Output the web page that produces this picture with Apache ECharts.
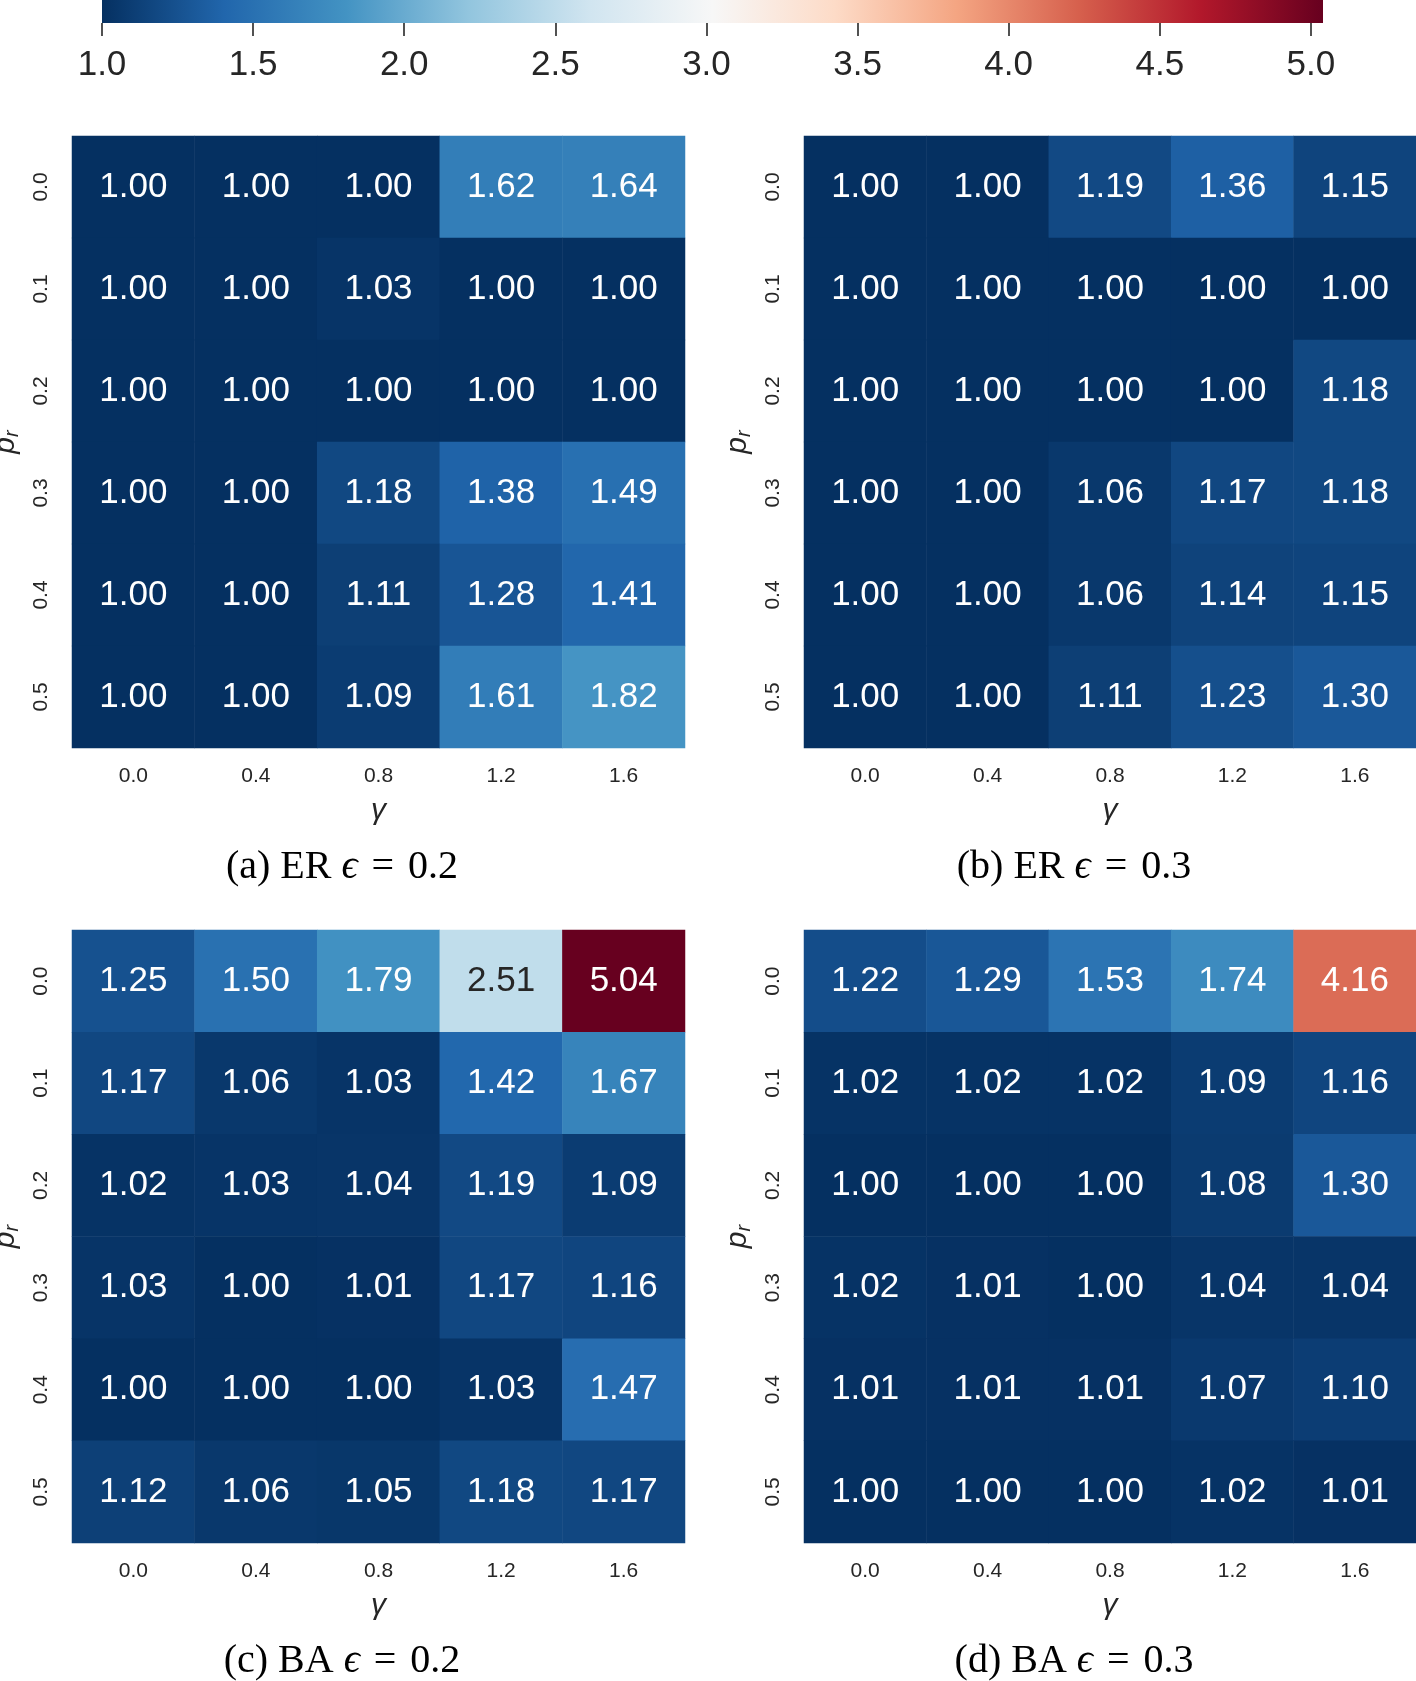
<!DOCTYPE html>
<html>
<head>
<meta charset="utf-8">
<script src="https://cdn.jsdelivr.net/npm/echarts@6/dist/echarts.min.js"></script>
<style>
html,body{margin:0;padding:0;background:#fff;}
#chart{width:1416px;height:1681px;}
</style>
</head>
<body>
<div id="chart"></div>
<script>
// ---- data ----
const gammaLabels = ['0.0', '0.4', '0.8', '1.2', '1.6'];
const prLabels = ['0.0', '0.1', '0.2', '0.3', '0.4', '0.5'];
const colorbarTicks = [1.0, 1.5, 2.0, 2.5, 3.0, 3.5, 4.0, 4.5, 5.0];
const colorMin = 1.00;
const colorMax = 5.04;

// rows = p_r (0.0 .. 0.5), columns = gamma (0.0 .. 1.6)
const erEps02 = [
  [1.00, 1.00, 1.00, 1.62, 1.64],
  [1.00, 1.00, 1.03, 1.00, 1.00],
  [1.00, 1.00, 1.00, 1.00, 1.00],
  [1.00, 1.00, 1.18, 1.38, 1.49],
  [1.00, 1.00, 1.11, 1.28, 1.41],
  [1.00, 1.00, 1.09, 1.61, 1.82]
];
const erEps03 = [
  [1.00, 1.00, 1.19, 1.36, 1.15],
  [1.00, 1.00, 1.00, 1.00, 1.00],
  [1.00, 1.00, 1.00, 1.00, 1.18],
  [1.00, 1.00, 1.06, 1.17, 1.18],
  [1.00, 1.00, 1.06, 1.14, 1.15],
  [1.00, 1.00, 1.11, 1.23, 1.30]
];
const baEps02 = [
  [1.25, 1.50, 1.79, 2.51, 5.04],
  [1.17, 1.06, 1.03, 1.42, 1.67],
  [1.02, 1.03, 1.04, 1.19, 1.09],
  [1.03, 1.00, 1.01, 1.17, 1.16],
  [1.00, 1.00, 1.00, 1.03, 1.47],
  [1.12, 1.06, 1.05, 1.18, 1.17]
];
const baEps03 = [
  [1.22, 1.29, 1.53, 1.74, 4.16],
  [1.02, 1.02, 1.02, 1.09, 1.16],
  [1.00, 1.00, 1.00, 1.08, 1.30],
  [1.02, 1.01, 1.00, 1.04, 1.04],
  [1.01, 1.01, 1.01, 1.07, 1.10],
  [1.00, 1.00, 1.00, 1.02, 1.01]
];
const panelCaptions = [
  {tag: '(a)', net: 'ER', eps: '0.2'},
  {tag: '(b)', net: 'ER', eps: '0.3'},
  {tag: '(c)', net: 'BA', eps: '0.2'},
  {tag: '(d)', net: 'BA', eps: '0.3'}
];
const panelData = [erEps02, erEps03, baEps02, baEps03];

// ---- style ----
const cmap = ['#053061', '#2166ac', '#4393c3', '#92c5de', '#d1e5f0', '#f7f7f7',
              '#fddbc7', '#f4a582', '#d6604d', '#b2182b', '#67001f'];
const SANS = '"Liberation Sans", Arial, sans-serif';
const SERIF = '"Liberation Serif", "DejaVu Serif", serif';
const TXT = '#262626';

const grids = [
  {left: 72, top: 136, width: 613, height: 612},
  {left: 804, top: 136, width: 612, height: 612},
  {left: 72, top: 930, width: 613, height: 613},
  {left: 804, top: 930, width: 612, height: 613}
];
const captionPos = [[342, 867], [1074, 867], [342, 1661], [1074, 1661]];

function toSeriesData(m) {
  const out = [];
  m.forEach((row, yi) => row.forEach((v, xi) => out.push([xi, yi, v])));
  return out;
}

const option = {
  backgroundColor: '#fff',
  animation: false,
  grid: [
    {left: 102, top: 0, width: 1221, height: 23, show: true, borderWidth: 0,
     containLabel: false, outerBoundsMode: 'none',
     backgroundColor: {type: 'linear', x: 0, y: 0, x2: 1, y2: 0,
       colorStops: cmap.map((c, i) => ({offset: i / (cmap.length - 1), color: c}))}}
  ].concat(grids.map(g => Object.assign({}, g, {containLabel: false, outerBoundsMode: 'none'}))),
  xAxis: [
    {gridIndex: 0, type: 'value', min: colorMin, max: colorMax, position: 'bottom',
     axisLine: {show: false}, splitLine: {show: false},
     axisTick: {show: true, length: 13, customValues: colorbarTicks, lineStyle: {color: TXT, width: 1.6}},
     axisLabel: {fontFamily: SANS, fontSize: 35, color: TXT, margin: 25,
       customValues: colorbarTicks, formatter: v => Number(v).toFixed(1)}}
  ].concat(grids.map((g, i) => ({
    gridIndex: i + 1, type: 'category', data: gammaLabels, position: 'bottom',
    axisLine: {show: false}, axisTick: {show: false}, splitLine: {show: false},
    axisLabel: {fontFamily: SANS, fontSize: 21, color: TXT, margin: 18},
    name: 'γ', nameLocation: 'middle', nameGap: 48,
    nameTextStyle: {fontFamily: SANS, fontSize: 30, fontStyle: 'italic', color: TXT}
  }))),
  yAxis: [
    {gridIndex: 0, type: 'value', show: false}
  ].concat(grids.map((g, i) => ({
    gridIndex: i + 1, type: 'category', data: prLabels, inverse: true,
    axisLine: {show: false}, axisTick: {show: false}, splitLine: {show: false},
    axisLabel: {fontFamily: SANS, fontSize: 21, color: TXT, margin: 20, rotate: 90},
    name: '{p|p}{r|r}', nameLocation: 'middle', nameGap: 50, nameRotate: 90,
    nameTextStyle: {color: TXT, rich: {
      p: {fontFamily: SANS, fontSize: 30, fontStyle: 'italic', color: TXT},
      r: {fontFamily: SANS, fontSize: 20, fontStyle: 'italic', color: TXT, verticalAlign: 'bottom', padding: [12, 0, 0, 0]}
    }}
  }))),
  visualMap: {
    type: 'continuous', show: false, min: colorMin, max: colorMax,
    seriesIndex: [0, 1, 2, 3], dimension: 2,
    inRange: {color: cmap},
    outOfRange: {color: '#67001f'}
  },
  series: panelData.map((m, i) => ({
    type: 'heatmap', xAxisIndex: i + 1, yAxisIndex: i + 1,
    data: toSeriesData(m),
    itemStyle: {borderWidth: 0},
    emphasis: {disabled: true},
    label: {
      show: true, fontFamily: SANS, fontSize: 35,
      formatter: p => {
        const v = p.value[2];
        const key = (v > 2.2 && v < 3.75) ? 'd' : 'w';
        return '{' + key + '|' + v.toFixed(2) + '}';
      },
      rich: {
        w: {color: '#ffffff', fontFamily: SANS, fontSize: 35},
        d: {color: TXT, fontFamily: SANS, fontSize: 35}
      }
    }
  })),
  graphic: panelCaptions.map((c, i) => ({
    type: 'text', x: captionPos[i][0], y: captionPos[i][1],
    style: {
      text: c.tag + ' ' + c.net + ' {e|ϵ}{eq|=}' + c.eps,
      fontFamily: SERIF, fontSize: 40, fill: '#000',
      align: 'center', verticalAlign: 'middle',
      rich: {
        e: {fontFamily: SERIF, fontSize: 40, fontStyle: 'italic', fill: '#000'},
        eq: {fontFamily: SERIF, fontSize: 40, fill: '#000', padding: [0, 14, 0, 14]}
      }
    }
  }))
};

const chart = echarts.init(document.getElementById('chart'));
chart.setOption(option);
</script>
</body>
</html>
